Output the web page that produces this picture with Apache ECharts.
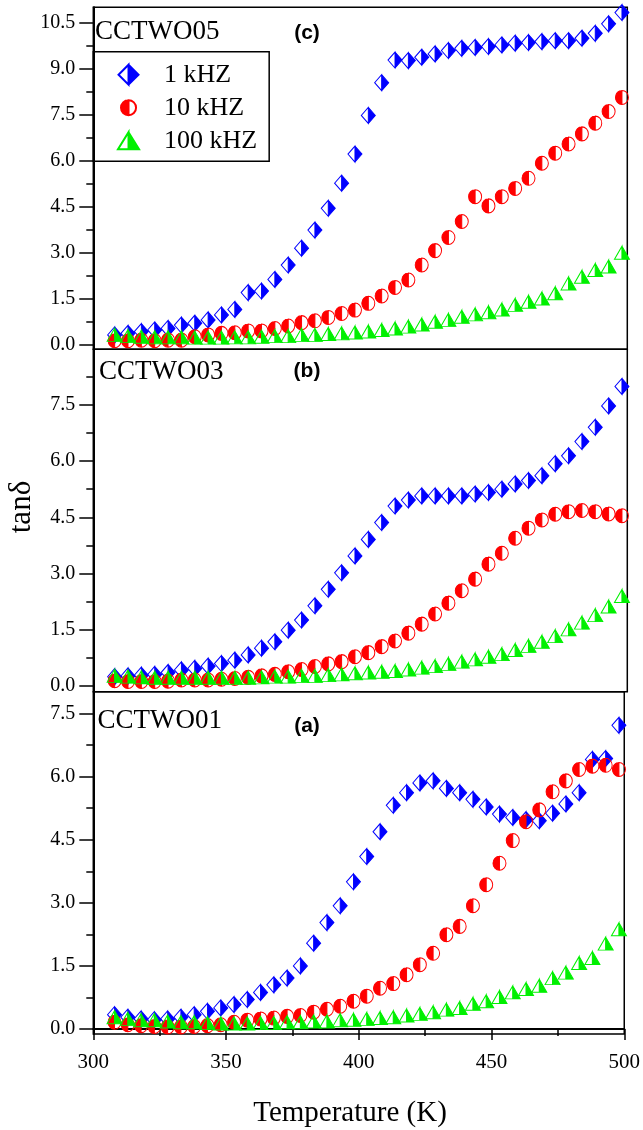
<!DOCTYPE html>
<html><head><meta charset="utf-8">
<script src="https://cdn.jsdelivr.net/npm/echarts@6/dist/echarts.min.js"></script>
<style>html,body{margin:0;padding:0;background:#fff}#c{width:643px;height:1130px}</style>
</head><body><div id="c"></div><script>
// ---- data ----
const temperature = [308,313,318,323,328,333,338,343,348,353,358,363,368,373,378,383,388,393,398,403,408,413,418,423,428,433,438,443,448,453,458,463,468,473,478,483,488,493,498];
const seriesNames = ['1 kHZ','10 kHZ','100 kHZ'];
const panelNames = ['CCTWO05','CCTWO03','CCTWO01'];
const panelTags = ['(c)','(b)','(a)'];

// (c) CCTWO05
const c_1k   = [0.33,0.38,0.44,0.49,0.54,0.65,0.71,0.82,0.98,1.16,1.71,1.76,2.14,2.61,3.16,3.75,4.46,5.28,6.23,7.49,8.56,9.30,9.28,9.39,9.50,9.61,9.68,9.71,9.74,9.79,9.85,9.87,9.90,9.93,9.93,10.01,10.17,10.48,10.85];
const c_10k  = [0.14,0.14,0.16,0.14,0.16,0.16,0.27,0.33,0.38,0.40,0.46,0.46,0.54,0.62,0.73,0.79,0.90,1.03,1.14,1.36,1.60,1.88,2.12,2.61,3.08,3.51,4.03,4.84,4.54,4.84,5.11,5.44,5.93,6.26,6.56,6.89,7.24,7.62,8.08];
const c_100k = [0.33,0.29,0.27,0.25,0.25,0.25,0.24,0.24,0.24,0.25,0.25,0.27,0.29,0.29,0.33,0.33,0.36,0.38,0.41,0.44,0.49,0.54,0.60,0.67,0.76,0.82,0.92,1.00,1.07,1.16,1.31,1.41,1.52,1.69,2.01,2.23,2.45,2.56,3.01];
// (b) CCTWO03
const b_1k   = [0.25,0.27,0.29,0.31,0.36,0.43,0.47,0.53,0.60,0.69,0.83,1.01,1.18,1.49,1.76,2.14,2.58,3.02,3.47,3.91,4.36,4.80,4.96,5.07,5.07,5.07,5.07,5.12,5.16,5.25,5.39,5.48,5.61,5.93,6.14,6.52,6.90,7.47,7.99];
const b_10k  = [0.14,0.12,0.12,0.12,0.13,0.16,0.16,0.16,0.18,0.20,0.23,0.27,0.31,0.38,0.44,0.52,0.59,0.65,0.78,0.89,1.05,1.20,1.41,1.65,1.92,2.21,2.54,2.85,3.25,3.54,3.94,4.21,4.43,4.58,4.65,4.68,4.65,4.59,4.54];
const b_100k = [0.27,0.25,0.23,0.22,0.22,0.22,0.22,0.22,0.22,0.22,0.22,0.23,0.25,0.25,0.27,0.27,0.29,0.31,0.34,0.36,0.38,0.40,0.44,0.49,0.53,0.59,0.65,0.71,0.78,0.85,0.96,1.07,1.18,1.33,1.51,1.69,1.89,2.12,2.40];
// (a) CCTWO01
const a_1k   = [0.34,0.28,0.24,0.22,0.24,0.28,0.34,0.42,0.50,0.58,0.70,0.87,1.05,1.21,1.50,2.04,2.53,2.93,3.50,4.10,4.69,5.32,5.62,5.85,5.90,5.72,5.62,5.46,5.28,5.11,5.03,4.98,4.95,5.13,5.35,5.62,6.41,6.43,7.22];
const a_10k  = [0.16,0.10,0.08,0.06,0.05,0.05,0.06,0.08,0.10,0.16,0.21,0.24,0.26,0.30,0.32,0.40,0.47,0.54,0.66,0.78,0.97,1.08,1.29,1.53,1.80,2.24,2.44,2.93,3.43,3.94,4.48,4.93,5.21,5.64,5.90,6.17,6.25,6.27,6.17];
const a_100k = [0.28,0.24,0.21,0.21,0.18,0.16,0.16,0.14,0.13,0.13,0.13,0.14,0.14,0.16,0.16,0.18,0.18,0.21,0.22,0.24,0.26,0.28,0.32,0.36,0.40,0.46,0.50,0.60,0.66,0.76,0.87,0.95,1.03,1.21,1.34,1.57,1.69,2.03,2.37];

// tick labels
const yTicksC = [0, 1.5, 3.0, 4.5, 6.0, 7.5, 9.0, 10.5];
const yTicksB = [0, 1.5, 3.0, 4.5, 6.0, 7.5];
const yTicksA = [0, 1.5, 3.0, 4.5, 6.0, 7.5];
const xTicks = [300, 350, 400, 450, 500];

// ---- styling ----
const SERIF = 'Liberation Serif';
const SANS = 'Liberation Sans';
const COLORS = ['#0000ff', '#ff0000', '#00f000'];
// half-filled symbols (nonzero winding: reversed half stays hollow)
const SYM = [
  'path://M0,-1L1,0L0,1L-1,0Z M0,-1L-1,0L0,1Z',
  'path://M0,-1C0.5523,-1,1,-0.5523,1,0C1,0.5523,0.5523,1,0,1C-0.5523,1,-1,0.5523,-1,0C-1,-0.5523,-0.5523,-1,0,-1Z M0,-1L0,1C0.5523,1,1,0.5523,1,0C1,-0.5523,0.5523,-1,0,-1Z',
  'path://M0,-1L1,1L-1,1Z M0,-1L-1,1L0,1Z'
];
const LEG_ICON = [
  SYM[0],
  'path://M-1.33,-1.33 M1.33,1.33 M0,-1C0.5523,-1,1,-0.5523,1,0C1,0.5523,0.5523,1,0,1C-0.5523,1,-1,0.5523,-1,0C-1,-0.5523,-0.5523,-1,0,-1Z M0,-1L0,1C0.5523,1,1,0.5523,1,0C1,-0.5523,0.5523,-1,0,-1Z',
  'path://M-1,-0.95 M1,0.95 M0,-0.81L1,0.81L-1,0.81Z M0,-0.81L-1,0.81L0,0.81Z'
];
const SIZES = [[14,16],[13,14],[15,13]];

const panels = [
  {vals:[c_1k,c_10k,c_100k], ticks:yTicksC, min:-0.14, max:11.02, grid:{top:7.3, height:342}},
  {vals:[b_1k,b_10k,b_100k], ticks:yTicksB, min:-0.152, max:8.98, grid:{top:349.3, height:342.4}},
  {vals:[a_1k,a_10k,a_100k], ticks:yTicksA, min:-0.119, max:8.02, grid:{top:691.7, height:342.3}}
];

const grid = panels.map(p => ({left:93.3, width:534, top:p.grid.top, height:p.grid.height,
  show:true, borderColor:'#000', borderWidth:1.5, backgroundColor:'transparent'}));

const yAxis = panels.map((p, i) => ({
  type:'value', gridIndex:i, min:p.min, max:p.max, minInterval:1.5, maxInterval:1.5,
  axisLine:{show:true, lineStyle:{color:'#000', width:2}},
  axisTick:{show:true, inside:false, length:14, customValues:p.ticks, lineStyle:{color:'#000', width:1.5}},
  minorTick:{show:true, splitNumber:2, length:7, lineStyle:{color:'#000', width:1.5}},
  axisLabel:{customValues:p.ticks, margin:18, fontFamily:SERIF, fontSize:20, color:'#000',
    formatter: v => Number(v).toFixed(1)},
  splitLine:{show:false}, minorSplitLine:{show:false}
}));

const xAxis = panels.map((p, i) => i < 2 ? ({type:'value', gridIndex:i, min:300, max:500, interval:50, show:false}) : ({
  type:'value', gridIndex:i, min:300, max:500, interval:50,
  axisLine:{show:true, lineStyle:{color:'#000', width:2}},
  axisTick:{show:true, inside:false, length:11, customValues:xTicks, lineStyle:{color:'#000', width:1.5}},
  minorTick:{show:true, splitNumber:2, length:7, lineStyle:{color:'#000', width:1.5}},
  axisLabel:{customValues:xTicks, margin:18, fontFamily:SERIF, fontSize:21, color:'#000'},
  splitLine:{show:false}
}));

const series = [];
panels.forEach((p, pi) => {
  p.vals.forEach((vals, f) => {
    series.push({
      type:'scatter', name:seriesNames[f], xAxisIndex:pi, yAxisIndex:pi,
      symbol:SYM[f], symbolSize:SIZES[f],
      data: temperature.map((t, k) => [t, vals[k]]),
      itemStyle:{color:COLORS[f], borderColor:COLORS[f], borderWidth:1, opacity:1},
      emphasis:{disabled:true}, z:2+f, clip:false
    });
  });
});

const panelLabelY = [31.7, 371.7, 721];
const panelLabelX = [95, 99, 97.5];
const tagY = [33.3, 371.7, 726];
const graphic = [];
panelNames.forEach((n, i) => {
  graphic.push({type:'text', x:panelLabelX[i], y:panelLabelY[i], silent:true,
    style:{text:n, fontFamily:SERIF, fontSize:27, fill:'#000', align:'left', verticalAlign:'middle'}});
  graphic.push({type:'text', x:307, y:tagY[i], silent:true,
    style:{text:panelTags[i], fontFamily:SANS, fontWeight:'bold', fontSize:21, fill:'#000', align:'center', verticalAlign:'middle'}});
});
graphic.push({type:'text', x:22, y:507, rotation:Math.PI/2, silent:true,
  style:{text:'tanδ', fontFamily:SERIF, fontSize:31, fill:'#000', align:'center', verticalAlign:'middle'}});
graphic.push({type:'text', x:350, y:1113, silent:true,
  style:{text:'Temperature (K)', fontFamily:SERIF, fontSize:29, fill:'#000', align:'center', verticalAlign:'middle'}});

const chart = echarts.init(document.getElementById('c'), null, {renderer:'canvas'});
chart.setOption({
  animation:false,
  backgroundColor:'#fff',
  grid, xAxis, yAxis, series, graphic,
  legend:{
    orient:'vertical', left:93.3, top:51.7, padding:[10,12,7.5,23.7], itemGap:7,
    itemWidth:61, itemHeight:20, borderColor:'#000', borderWidth:1.5, selectedMode:false,
    textStyle:{fontFamily:SERIF, fontSize:26, color:'#000', lineHeight:25},
    data: seriesNames.map((n, f) => ({name:n, icon:LEG_ICON[f]}))
  }
});
</script></body></html>
